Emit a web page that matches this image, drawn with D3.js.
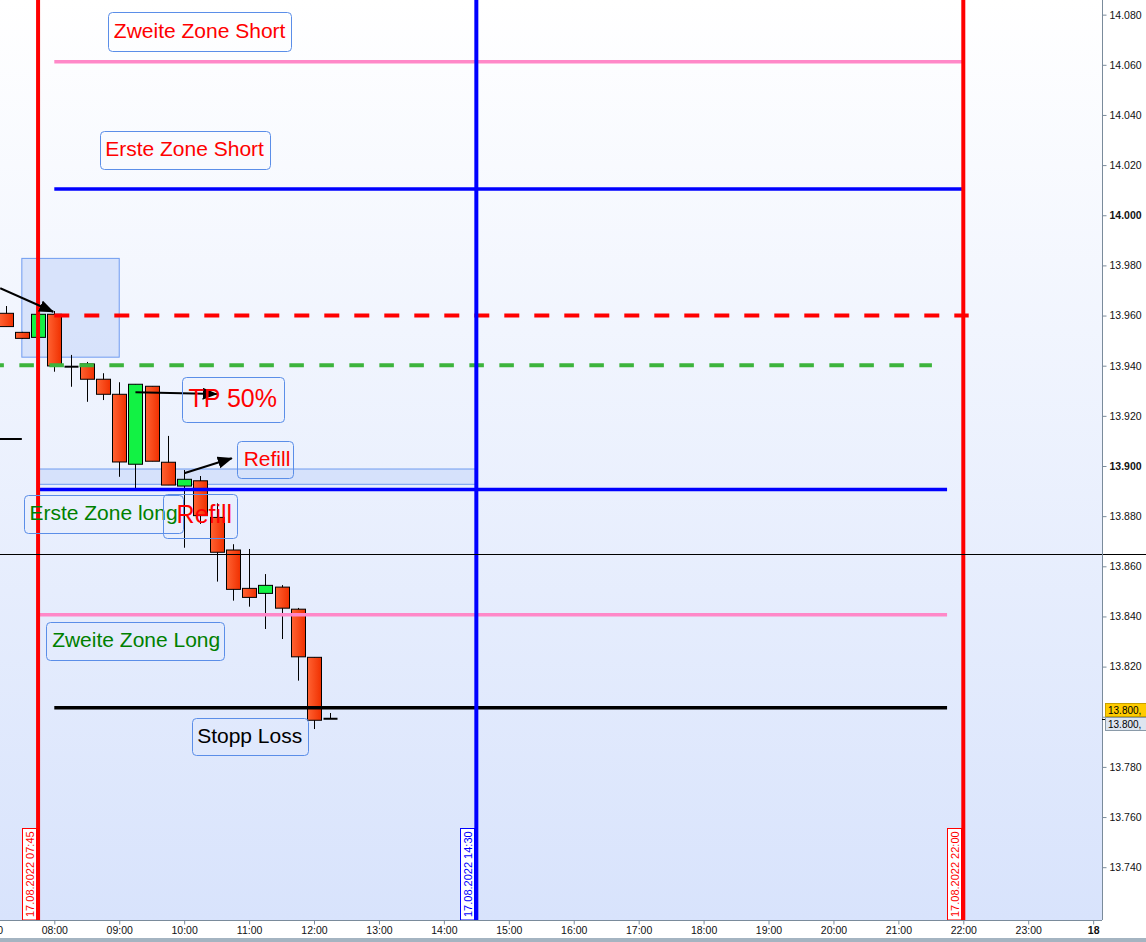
<!DOCTYPE html>
<html><head><meta charset="utf-8">
<script src="https://cdn.jsdelivr.net/npm/d3@7"></script>
<style>html,body{margin:0;padding:0;background:#fff;overflow:hidden}svg{display:block}</style>
</head><body>
<svg id="chart" width="1146" height="942"></svg>
<script>
// ---------------- DATA ----------------
const candleTimes = ["07:15","07:30","07:45","08:00","08:15","08:30","08:45","09:00","09:15","09:30","09:45",
  "10:00","10:15","10:30","10:45","11:00","11:15","11:30","11:45","12:00","12:15"];
const opens  = [13960.9,13953.3,13951.3,13960.5,13939.6,13940.7,13934.6,13928.6,13900.7,13931.8,13901.5,
  13892.0,13894.1,13879.5,13866.5,13851.2,13849.2,13851.7,13842.9,13823.7,13799.2];
const highs  = [13963.8,13953.5,13960.6,13961.8,13944.3,13941.5,13937.0,13933.4,13932.6,13931.8,13912.0,
  13898.4,13896.0,13885.1,13868.8,13866.9,13856.9,13852.5,13843.4,13823.7,13801.5];
const lows   = [13955.6,13950.7,13951.2,13937.6,13931.6,13925.6,13926.3,13895.7,13890.8,13901.9,13892.4,
  13867.4,13876.9,13853.9,13846.3,13843.9,13835.0,13831.0,13814.4,13795.1,13799.2];
const closes = [13955.6,13950.9,13960.5,13939.9,13939.6,13934.6,13928.6,13901.6,13932.6,13901.9,13892.4,
  13894.7,13880.2,13865.6,13850.8,13847.6,13852.4,13843.3,13823.9,13798.6,13799.2];

const yTickValues = [14080,14060,14040,14020,14000,13980,13960,13940,13920,13900,13880,13860,13840,13820,13800,13780,13760,13740];
const yBoldTicks = [14000,13900];
const yHiddenLabel = [13800]; // covered by the price tags
const xTickTimes  = ["07:00","08:00","09:00","10:00","11:00","12:00","13:00","14:00","15:00","16:00","17:00","18:00","19:00","20:00","21:00","22:00","23:00","24:00"];
const xTickLabels = ["07:00","08:00","09:00","10:00","11:00","12:00","13:00","14:00","15:00","16:00","17:00","18:00","19:00","20:00","21:00","22:00","23:00","18"];

// horizontal levels: name, price, start, end
const levelNames  = ["pinkTop","blueTop","redDash","greenDash","blueBot","pinkBot","stop","cross","leftSeg"];
const levelPrices = [14061.2,14010.5,13960.0,13940.2,13890.6,13840.7,13803.6,13864.9,13910.8];
const levelStart  = ["08:00","08:00","08:00","07:00","07:45","07:45","08:00","06:00","06:50"];
const levelEnd    = ["22:00","22:00","22:05","21:31","21:45","21:45","21:45","24:30","07:30"];

// vertical time lines
const vlineTimes  = ["07:45","14:30","22:00"];
const vlineLabels = ["17.08.2022 07:45","17.08.2022 14:30","17.08.2022 22:00"];
const vlineKinds  = ["red","blue","red"];

// shaded rectangles: [t0,t1,pTop,pBottom]
const rectT0 = ["07:30","07:45"];
const rectT1 = ["09:00","14:30"];
const rectPTop = [13982.8,13898.8];
const rectPBot = [13943.4,13892.7];

// text annotations: box extent in time/price, text start time
const noteTexts = ["Zweite Zone Short","Erste Zone Short","TP 50%","Refill","Erste Zone long","Refill","Zweite Zone Long","Stopp Loss"];
const noteKinds = ["red","red","redBig","red","green","redBig","green","black"];
const noteT0 = ["08:50","08:42","09:58","10:49","07:32","09:40","07:52","10:07"];
const noteT1 = ["11:39","11:19","11:32","11:41","09:59","10:49","10:37","11:54"];
const noteTx = ["08:55","08:47","10:04","10:55","07:37","09:53","07:58","10:12"];
const notePTop = [14080.9,14033.5,13935.4,13910.1,13888.3,13888.7,13837.7,13799.6];
const notePBot = [14065.6,14018.3,13917.7,13895.1,13873.2,13871.2,13822.5,13784.7];

// arrows: from (t,p) to (t,p)
const arrowT0 = ["07:10","09:15","10:00"];
const arrowP0 = [13970.9,13929.4,13897.1];
const arrowT1 = ["07:59","10:30","10:44"];
const arrowP1 = [13961.5,13928.7,13903.1];

const lastPrice = 13799.2;
const lastPriceText = "13.800,";

// ---------------- SETUP ----------------
const W = 1146, H = 942;
const plotRight = 1102, plotBottom = 920;
const hm = s => { const [h,m] = s.split(":").map(Number); return new Date(2022,7,17,h,m); };
const x = d3.scaleTime().domain([hm("08:00"), hm("22:00")]).range([54.3, 963.3]);
const y = d3.scaleLinear().domain([13740, 14080]).range([867.2, 14.65]);
const de = d3.formatLocale({decimal:",", thousands:".", grouping:[3], currency:["","€"]});
const fmt = de.format(",d");
const FONT = "'Liberation Sans', Arial, sans-serif";

const svg = d3.select("#chart");
const defs = svg.append("defs");
const bg = defs.append("linearGradient").attr("id","bg").attr("x1",0).attr("y1",0).attr("x2",0).attr("y2",1);
bg.append("stop").attr("offset","0%").attr("stop-color","#ffffff");
bg.append("stop").attr("offset","100%").attr("stop-color","#d8e3fc");
const rg = defs.append("linearGradient").attr("id","bear").attr("x1",0).attr("y1",0).attr("x2",1).attr("y2",0);
rg.append("stop").attr("offset","0%").attr("stop-color","#ff6232");
rg.append("stop").attr("offset","100%").attr("stop-color","#f03000");
const mk = defs.append("marker").attr("id","ah").attr("markerUnits","userSpaceOnUse")
  .attr("markerWidth",16).attr("markerHeight",14).attr("refX",14).attr("refY",6).attr("orient","auto");
mk.append("path").attr("d","M0,0 L15,6 L0,12 Z").attr("fill","#000");
const clip = defs.append("clipPath").attr("id","plotclip");
clip.append("rect").attr("x",0).attr("y",0).attr("width",plotRight).attr("height",plotBottom);

svg.append("rect").attr("width",W).attr("height",H).attr("fill","#ffffff");
svg.append("rect").attr("x",0).attr("y",0).attr("width",plotRight).attr("height",plotBottom).attr("fill","url(#bg)");

const plot = svg.append("g").attr("clip-path","url(#plotclip)");

// shaded rectangles
plot.selectAll("rect.zone").data(rectT0).join("rect").attr("class","zone")
  .attr("x",(d,i)=>x(hm(d))).attr("y",(d,i)=>y(rectPTop[i]))
  .attr("width",(d,i)=>x(hm(rectT1[i]))-x(hm(d)))
  .attr("height",(d,i)=>y(rectPBot[i])-y(rectPTop[i]))
  .attr("fill","#cfdcfa").attr("fill-opacity",0.75).attr("stroke","#6f9cf0").attr("stroke-width",1);

// candles
const cw = 14;
const cg = plot.append("g");
candleTimes.forEach((t,i)=>{
  const cx = Math.round(x(hm(t)))+0.5;
  const o=opens[i], c=closes[i], h=highs[i], l=lows[i];
  cg.append("line").attr("x1",cx).attr("x2",cx).attr("y1",y(h)).attr("y2",y(l)).attr("stroke","#000").attr("stroke-width",1);
  if (Math.abs(o-c) < 0.05) {
    cg.append("line").attr("x1",cx-cw/2).attr("x2",cx+cw/2).attr("y1",y(c)).attr("y2",y(c)).attr("stroke","#000").attr("stroke-width",2);
  } else {
    const top = y(Math.max(o,c)), bot = y(Math.min(o,c));
    cg.append("rect").attr("x",cx-cw/2).attr("y",top).attr("width",cw).attr("height",bot-top)
      .attr("fill", c>o ? "#12f244" : "url(#bear)").attr("stroke","#000").attr("stroke-width",1);
  }
});

// levels
const levelStyle = {
  pinkTop:{c:"#ff88c8",w:3.5}, blueTop:{c:"#0000ff",w:3.5}, redDash:{c:"#ff0000",w:4,d:"15,15"},
  greenDash:{c:"#3cb43c",w:4,d:"14.5,15.5"}, blueBot:{c:"#0000ff",w:3.5}, pinkBot:{c:"#ff88c8",w:3.5},
  stop:{c:"#000000",w:3.5}, cross:{c:"#000000",w:1}, leftSeg:{c:"#000000",w:2}
};
levelNames.forEach((n,i)=>{
  const s = levelStyle[n];
  const yy = n==="cross" ? Math.round(y(levelPrices[i]))+0.5 : y(levelPrices[i]);
  const ln = (n==="cross"?svg:plot).append("line")
    .attr("x1", n==="cross"?0:x(hm(levelStart[i]))).attr("x2", n==="cross"?W:x(hm(levelEnd[i])))
    .attr("y1",yy).attr("y2",yy).attr("stroke",s.c).attr("stroke-width",s.w);
  if (s.d) ln.attr("stroke-dasharray",s.d);
});

// vertical lines
const vColor = {red:"#ff0000", blue:"#0000ff"};
vlineTimes.forEach((t,i)=>{
  const vx = x(hm(t));
  plot.append("line").attr("x1",vx).attr("x2",vx).attr("y1",0).attr("y2",plotBottom)
    .attr("stroke",vColor[vlineKinds[i]]).attr("stroke-width",4);
});

// arrows
arrowT0.forEach((t,i)=>{
  plot.append("line").attr("x1",x(hm(t))).attr("y1",y(arrowP0[i]))
    .attr("x2",x(hm(arrowT1[i]))).attr("y2",y(arrowP1[i]))
    .attr("stroke","#000").attr("stroke-width",2).attr("marker-end","url(#ah)");
});

// annotations
const noteStyle = {red:{c:"#ff0000",s:21}, redBig:{c:"#ff0000",s:25}, green:{c:"#008000",s:21}, black:{c:"#000000",s:21}};
noteTexts.forEach((txt,i)=>{
  const st = noteStyle[noteKinds[i]];
  const x0 = Math.round(x(hm(noteT0[i])))+0.5, x1 = Math.round(x(hm(noteT1[i])))+0.5;
  const y0 = Math.round(y(notePTop[i]))+0.5, y1 = Math.round(y(notePBot[i]))+0.5;
  plot.append("rect").attr("x",x0).attr("y",y0).attr("width",x1-x0).attr("height",y1-y0)
    .attr("rx",4).attr("fill","none").attr("stroke","#5b8ee8").attr("stroke-width",1);
  plot.append("text").attr("x",x(hm(noteTx[i]))).attr("y",(y0+y1)/2 + st.s*0.25+0.5)
    .attr("font-family",FONT).attr("font-size",st.s).attr("fill",st.c).text(txt);
});

// vertical date labels
vlineTimes.forEach((t,i)=>{
  const vx = x(hm(t));
  const col = vColor[vlineKinds[i]];
  const bx = Math.round(vx-16)+0.5, bw = 14, by = 828.5, bh = plotBottom-828.5;
  svg.append("rect").attr("x",bx).attr("y",by).attr("width",bw).attr("height",bh)
    .attr("fill","#ffffff").attr("stroke",col).attr("stroke-width",1);
  svg.append("text").attr("transform",`translate(${bx+bw/2+4},${plotBottom-3}) rotate(-90)`)
    .attr("font-family",FONT).attr("font-size",11).attr("fill",col).text(vlineLabels[i]);
});

// Y axis
const yAxis = d3.axisRight(y).tickValues(yTickValues).tickSize(4).tickPadding(3)
  .tickFormat(d => yHiddenLabel.includes(d) ? "" : fmt(d));
const ya = svg.append("g").attr("transform",`translate(${plotRight+0.5},0)`).call(yAxis);
ya.select(".domain").attr("stroke","#7a8b9b").attr("d",`M0,0V${plotBottom}`);
ya.selectAll(".tick line").attr("stroke","#7a8b9b");
ya.selectAll(".tick text").attr("font-family",FONT).attr("font-size",10.5).attr("fill","#111")
  .attr("font-weight",d=>yBoldTicks.includes(d)?"bold":"normal");

// X axis
const xAxis = d3.axisBottom(x).tickValues(xTickTimes.map(hm)).tickSize(4).tickPadding(2)
  .tickFormat((d,i)=>xTickLabels[i]);
const xa = svg.append("g").attr("transform",`translate(0,${plotBottom+0.5})`).call(xAxis);
xa.select(".domain").attr("stroke","#7a8b9b").attr("d",`M0,0H${plotRight}`);
xa.selectAll(".tick line").attr("stroke","#7a8b9b");
xa.selectAll(".tick text").attr("font-family",FONT).attr("font-size",10.5).attr("fill","#111")
  .attr("font-weight",(d,i)=>xTickLabels[i]==="18"?"bold":"normal");

// bottom strip
svg.append("rect").attr("x",0).attr("y",938).attr("width",W).attr("height",4).attr("fill","#a4b4c1");

// price tags
const ly = Math.round(y(lastPrice));
svg.append("line").attr("x1",plotRight).attr("x2",plotRight+5).attr("y1",ly+0.5).attr("y2",ly+0.5).attr("stroke","#000");
svg.append("rect").attr("x",1105.5).attr("y",ly-15.5).attr("width",45).attr("height",13)
  .attr("fill","#ffcc00").attr("stroke","#c8a000").attr("stroke-width",1);
svg.append("text").attr("x",1108).attr("y",ly-5.5).attr("font-family",FONT).attr("font-size",10).attr("fill","#000").text(lastPriceText);
svg.append("rect").attr("x",1105.5).attr("y",ly-1.5).attr("width",45).attr("height",13)
  .attr("fill","#dde5f0").attr("stroke","#8a9aa8").attr("stroke-width",1);
svg.append("text").attr("x",1108).attr("y",ly+9).attr("font-family",FONT).attr("font-size",10).attr("fill","#000").text(lastPriceText);
</script>
</body></html>
